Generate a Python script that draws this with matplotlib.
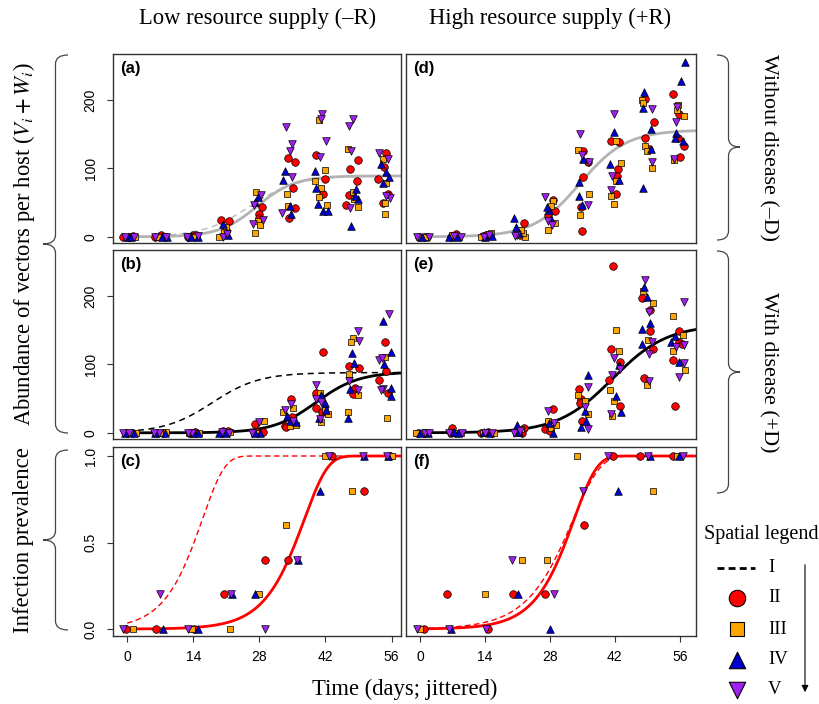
import numpy as np
import matplotlib
matplotlib.use('Agg')
import matplotlib.pyplot as plt
from matplotlib.path import Path
from matplotlib.patches import PathPatch

plt.rcParams['font.family'] = ['Liberation Serif', 'DejaVu Serif']
plt.rcParams['mathtext.fontset'] = 'stix'

# ---- data: (day, value) per spatial class ----
# panel (a): -R, -D
pts_a = {
    'II': [(-0.8, 0), (0.4, 0), (1.2, 1), (7.1, 3), (6.0, 0), (13.9, 3), (14.6, 2), (12.8, 0),
           (19.9, 24), (21.5, 23), (20.9, 10), (28.0, 33), (28.5, 43), (27.9, 28), (34.0, 115),
           (35.5, 110), (35.1, 72), (35.5, 42), (34.3, 28), (39.9, 120), (41.8, 84), (41.5, 63),
           (48.8, 112), (47.1, 99), (48.7, 82), (46.9, 61), (46.4, 47), (54.9, 122), (54.4, 102),
           (53.1, 85), (55.3, 63), (54.2, 50)],
    'III': [(-0.3, 0), (1.6, 0), (6.5, 0), (7.9, 1), (13.2, 1), (14.2, 0), (19.5, 0), (21.0, 14),
            (20.5, 7), (27.3, 65), (27.7, 23), (27.0, 6), (28.2, 17), (33.9, 63), (34.0, 45),
            (40.6, 171), (41.8, 97), (39.8, 82), (41.1, 72), (40.6, 58), (42.4, 47), (46.8, 128),
            (47.8, 65), (48.0, 55), (48.9, 44), (54.1, 113), (54.8, 78), (54.6, 49), (54.7, 33)],
    'IV': [(0.1, 0), (0.9, 0), (7.4, 0), (8.4, 0), (13.6, 0), (15.0, 0), (20.4, 19), (20.9, 5),
           (21.3, 2), (27.7, 58), (27.1, 51), (33.5, 96), (33.0, 83), (34.7, 33), (34.4, 45),
           (39.7, 96), (40.1, 72), (40.4, 48), (41.5, 38), (42.5, 38), (48.5, 70), (48.9, 55),
           (47.5, 16), (48.2, 60), (53.7, 106), (54.9, 94), (55.4, 87), (54.1, 79)],
    'V': [(-0.5, 0), (1.4, 0), (5.8, 0), (8.2, 0), (12.6, 0), (14.9, 1), (20.2, 0), (21.1, 4),
          (28.4, 61), (26.8, 47), (26.6, 19), (28.7, 25), (33.7, 160), (34.9, 136), (34.4, 126),
          (34.9, 87), (32.8, 35), (41.2, 180), (41.1, 172), (42.2, 140), (40.8, 117), (47.8, 172),
          (47.0, 162), (47.5, 125), (47.3, 42), (53.4, 123), (55.3, 113), (55.6, 56), (54.8, 60)],
}
# panel (b): -R, +D
pts_b = {
    'II': [(-0.1, 0), (1.0, 0), (6.4, 0), (7.6, 0), (13.4, 0), (14.4, 1), (21.3, 3), (20.2, 2),
           (19.8, 0), (27.0, 13), (28.7, 1), (27.5, 1), (34.6, 50), (34.9, 23), (33.5, 10),
           (33.7, 8), (41.5, 118), (39.9, 58), (40.1, 36), (41.2, 31), (47.0, 97), (49.1, 94),
           (48.3, 66), (47.8, 56), (54.7, 133), (54.9, 90), (53.4, 77), (55.3, 58)],
    'III': [(0.6, 0), (1.8, 0), (7.1, 0), (8.3, 1), (13.0, 0), (15.2, 0), (20.6, 0), (21.8, 1),
            (28.9, 17), (26.8, 0), (27.7, 0), (35.2, 36), (33.1, 31), (34.5, 10), (35.8, 12),
            (40.8, 58), (41.8, 34), (42.5, 27), (41.0, 16), (47.8, 138), (47.5, 133), (47.0, 86),
            (48.9, 55), (46.8, 30), (54.7, 111), (55.1, 22)],
    'IV': [(-0.5, 0), (1.4, 0), (6.0, 0), (8.0, 0), (14.0, 0), (15.0, 0), (20.9, 0), (19.5, 0),
           (28.2, 0), (27.0, 0), (34.4, 18), (35.7, 16), (33.9, 24), (41.9, 44), (42.2, 33),
           (40.6, 22), (41.0, 55), (47.6, 117), (48.1, 102), (47.1, 64), (46.8, 22), (54.1, 164),
           (55.8, 118), (55.8, 66), (55.8, 54), (54.5, 100)],
    'V': [(-0.8, 0), (0.3, 0), (6.8, 0), (5.7, 0), (13.8, 0), (12.9, 0), (21.5, 0), (20.0, 1),
          (28.0, 16), (26.5, 0), (34.6, 42), (33.5, 33), (35.1, 17), (40.1, 70), (41.1, 45),
          (39.9, 49), (40.8, 20), (48.8, 149), (49.1, 134), (47.0, 76), (48.8, 63), (55.5, 174),
          (53.4, 106), (53.9, 109), (54.1, 64), (53.7, 62)],
}
# panel (d): +R, -D
pts_d = {
    'II': [(-0.2, 0), (0.9, 0), (1.6, 0), (7.7, 4), (6.6, 0), (13.5, 1), (14.3, 3), (22.5, 20),
           (21.5, 2), (28.6, 54), (27.6, 32), (29.2, 38), (35.1, 126), (36.2, 109), (35.2, 88),
           (34.7, 43), (35.0, 8), (41.1, 140), (43.0, 139), (42.7, 99), (42.5, 89), (42.3, 63),
           (48.6, 201), (50.4, 167), (48.6, 144), (49.4, 128), (54.6, 209), (55.8, 180),
           (55.7, 145), (56.9, 133), (56.1, 117)],
    'III': [(0.1, 0), (1.2, 0), (7.0, 2), (8.4, 0), (15.3, 5), (13.1, 0), (22.7, 0), (22.3, 5),
            (21.8, 10), (28.6, 53), (28.3, 45), (29.1, 20), (27.7, 10), (34.0, 127), (36.4, 62),
            (34.4, 32), (42.3, 140), (43.4, 108), (42.3, 81), (41.2, 59), (41.9, 48), (47.9, 200),
            (48.0, 196), (48.6, 133), (48.9, 126), (50.0, 100), (55.6, 192), (55.3, 185),
            (56.9, 176), (54.7, 112)],
    'IV': [(0.5, 0), (6.3, 0), (7.9, 0), (14.0, 0), (15.6, 1), (20.3, 28), (20.8, 14), (21.3, 6),
           (27.9, 39), (28.3, 26), (27.3, 43), (35.2, 114), (34.2, 80), (34.2, 59), (35.0, 47),
           (41.9, 153), (40.9, 106), (42.9, 83), (48.2, 211), (48.1, 188), (49.9, 158),
           (49.9, 128), (48.1, 72), (57.1, 256), (56.2, 227), (55.1, 151), (54.9, 144), (56.6, 140)],
    'V': [(-0.6, 0), (1.9, 0), (8.8, 0), (7.3, 1), (13.8, 0), (14.8, 2), (21.0, 3), (20.5, 1),
          (27.0, 58), (27.5, 23), (28.5, 17), (34.6, 150), (35.0, 120), (36.5, 110), (36.3, 47),
          (41.9, 180), (41.4, 89), (41.2, 69), (50.1, 187), (50.0, 110), (55.3, 189), (55.1, 167),
          (54.8, 114)],
}
# panel (e): +R, +D
pts_e = {
    'II': [(-0.4, 0), (0.8, 0), (7.0, 7), (6.6, 0), (14.6, 1), (13.2, 0), (22.5, 7), (22.1, 0),
           (28.6, 35), (26.9, 5), (28.0, 3), (34.2, 64), (34.7, 49), (34.4, 44), (35.0, 18),
           (41.6, 243), (41.1, 123), (43.1, 104), (40.7, 77), (43.1, 39), (47.8, 197), (49.5, 179),
           (49.5, 148), (50.2, 122), (48.4, 80), (55.9, 148), (55.9, 132), (56.4, 129),
           (54.6, 107), (55.0, 39)],
    'III': [(0.4, 0), (-0.8, 0), (7.7, 0), (8.8, 0), (13.5, 0), (15.9, 0), (21.8, 6), (20.6, 0),
            (27.7, 17), (28.3, 7), (29.3, 11), (34.0, 55), (35.5, 47), (36.3, 27), (42.3, 150),
            (42.8, 119), (41.0, 62), (41.8, 47), (41.4, 25), (48.1, 207), (50.2, 189), (49.2, 135),
            (48.9, 70), (54.6, 170), (56.7, 143), (54.6, 119), (57.1, 92)],
    'IV': [(1.7, 0), (0.1, 0), (8.2, 0), (7.3, 1), (15.2, 0), (13.9, 1), (21.0, 12), (21.4, 1),
           (27.9, 14), (28.6, 0), (36.2, 84), (35.5, 32), (34.7, 8), (35.9, 17), (42.8, 99),
           (42.3, 54), (43.3, 31), (48.3, 213), (48.9, 198), (49.6, 161), (47.9, 151), (47.9, 129),
           (55.0, 142), (54.2, 133), (55.9, 103)],
    'V': [(1.2, 0), (2.0, 0), (6.2, 0), (9.0, 0), (14.1, 0), (15.5, 0), (20.3, 0), (21.6, 2),
          (27.5, 32), (28.9, 14), (36.2, 67), (36.3, 5), (35.6, 38), (41.8, 110), (43.2, 93),
          (41.4, 85), (41.1, 28), (48.6, 223), (49.3, 176), (50.1, 133), (49.4, 115), (49.3, 75),
          (56.9, 191), (55.1, 125), (56.9, 128), (57.0, 102), (55.9, 82)],
}
# panel (c): prevalence, -R
pts_c = {
    'II': [(-0.3, 0), (6.2, 0), (14.2, 0), (20.5, 0.2), (29.1, 0.4), (34.0, 0.4), (43.3, 1.0),
           (50.2, 0.8), (55.6, 1.0)],
    'III': [(1.3, 0), (13.8, 0), (21.7, 0), (27.9, 0.2), (33.7, 0.6), (41.9, 1.0), (47.7, 0.8),
            (56.0, 1.0)],
    'IV': [(7.5, 0), (14.9, 0), (22.2, 0.2), (27.1, 0.2), (36.2, 0.4), (40.9, 0.8), (50.2, 1.0),
           (55.3, 1.0)],
    'V': [(-0.8, 0), (7.0, 0.2), (12.8, 0), (22.0, 0.2), (29.1, 0), (36.0, 0.4), (42.7, 1.0),
          (50.0, 1.0), (55.0, 1.0)],
}
# panel (f): prevalence, +R
pts_f = {
    'II': [(0.9, 0), (5.8, 0.2), (14.7, 0), (20.1, 0.2), (26.9, 0.2), (35.4, 0.6), (41.6, 1.0),
           (47.5, 1.0), (54.5, 1.0)],
    'III': [(0.0, 0), (14.0, 0.2), (22.1, 0.4), (27.4, 0.4), (33.9, 1.0), (50.2, 0.8), (55.3, 1.0)],
    'IV': [(6.6, 0), (21.2, 0.2), (28.0, 0), (42.6, 0.8), (49.6, 1.0), (55.8, 1.0)],
    'V': [(-0.6, 0), (6.2, 0), (14.3, 0), (19.8, 0.4), (28.8, 0.2), (35.1, 0.8), (40.5, 1.0),
          (49.2, 1.0), (56.6, 1.0)],
}

# fitted curves: abundance = logistic (K, t0, r); prevalence = cloglog (t0, r)
fit_a = {'solid': (89, 27.5, 0.25), 'dash': (89, 26.0, 0.20)}
fit_b = {'solid': (89, 40.0, 0.22), 'dash': (88, 18.0, 0.20)}
fit_d = {'solid': (156, 34.5, 0.20)}
fit_e = {'solid': (158, 41.5, 0.17)}
fit_c = {'solid': (37.5, 0.20), 'dash': (15.9, 0.21)}
fit_f = {'solid': (33.2, 0.20), 'dash': (33.0, 0.17)}

styles = {
    'II': dict(marker='o', color='#ff0000', s=30),
    'III': dict(marker='s', color='#ffa500', s=15),
    'IV': dict(marker='^', color='#0000cd', s=30),
    'V': dict(marker='v', color='#a020f0', s=30),
}

W, H = 819, 704
fig = plt.figure(figsize=(W / 100, H / 100), dpi=100)


def rect(l, t, r, b):
    return [l / W, 1 - b / H, (r - l) / W, (b - t) / H]


cols = [(113, 401), (406, 696)]
rows = [(54, 243), (250, 439), (447, 636)]
xlims = [(-3, 58), (-3, 59.5)]


def logistic(t, K, t0, r):
    return K / (1 + np.exp(-r * (t - t0)))


def cloglog(t, t0, r):
    return 1 - np.exp(-np.exp(r * (t - t0)))


def draw_points(ax, pts):
    for k in ['II', 'III', 'IV', 'V']:
        arr = np.array(pts[k])
        st = styles[k]
        ax.scatter(arr[:, 0], arr[:, 1], marker=st['marker'], s=st['s'], c=st['color'],
                   edgecolors='black', linewidths=0.5, zorder=3)


panels = [
    (0, 0, '(a)', pts_a, fit_a, '#b3b3b3', 'abund'),
    (0, 1, '(b)', pts_b, fit_b, 'black', 'abund'),
    (0, 2, '(c)', pts_c, fit_c, 'red', 'prev'),
    (1, 0, '(d)', pts_d, fit_d, '#b3b3b3', 'abund'),
    (1, 1, '(e)', pts_e, fit_e, 'black', 'abund'),
    (1, 2, '(f)', pts_f, fit_f, 'red', 'prev'),
]

for ci, ri, lab, pts, fit, lc, kind in panels:
    l, r = cols[ci]
    t, b = rows[ri]
    ax = fig.add_axes(rect(l, t, r, b))
    ax.set_xlim(*xlims[ci])
    tt = np.linspace(0, xlims[ci][1], 300)
    if kind == 'abund':
        ax.set_ylim(-9, 267)
        if 'dash' in fit:
            dc = '#c0c0c0' if lc != 'black' else 'black'
            ax.plot(tt, logistic(tt, *fit['dash']), color=dc, lw=1.1, ls=(0, (4, 3)), zorder=2)
        ax.plot(tt, logistic(tt, *fit['solid']), color=lc, lw=2, zorder=2)
        ax.set_yticks([0, 100, 200])
    else:
        ax.set_ylim(-0.04, 1.052)
        ax.plot(tt, cloglog(tt, *fit['dash']), color=lc, lw=1.0, ls=(0, (4, 2.5)), zorder=2)
        ax.plot(tt, cloglog(tt, *fit['solid']), color=lc, lw=2, zorder=2)
        ax.set_yticks([0, 0.5, 1.0])
        ax.set_yticklabels(['0.0', '0.5', '1.0'])
    draw_points(ax, pts)
    ax.set_xticks([0, 14, 28, 42, 56])
    for sp in ax.spines.values():
        sp.set_color('#333333')
        sp.set_linewidth(1)
    ax.tick_params(direction='out', length=4, width=0.8, color='#333333', labelsize=10)
    for tl in ax.get_xticklabels() + ax.get_yticklabels():
        tl.set_fontfamily('Liberation Sans')
    if ri != 2:
        ax.tick_params(axis='x', bottom=False, labelbottom=False)
    else:
        ax.tick_params(axis='x', pad=6)
    if ci == 1:
        ax.tick_params(axis='y', left=False, labelleft=False)
    else:
        ax.tick_params(axis='y', pad=7)
        for tl in ax.get_yticklabels():
            tl.set_rotation(90)
            tl.set_va('center')
    ax.text(0.025, 0.965, lab, transform=ax.transAxes, ha='left', va='top',
            fontsize=12, fontweight='bold', family='Liberation Sans')

# overlay in pixel coordinates for labels, braces and legend
ov = fig.add_axes([0, 0, 1, 1])
ov.set_xlim(0, W)
ov.set_ylim(H, 0)
ov.axis('off')


def brace(x_end, x_tip, y0, y1, ym=None):
    xm = (x_end + x_tip) / 2
    if ym is None:
        ym = (y0 + y1) / 2
    rr = 9
    verts = [(x_end, y0), (xm, y0), (xm, y0 + rr), (xm, ym - rr), (xm, ym), (x_tip, ym),
             (xm, ym), (xm, ym + rr), (xm, y1 - rr), (xm, y1), (x_end, y1)]
    codes = [Path.MOVETO, Path.CURVE3, Path.CURVE3, Path.LINETO, Path.CURVE3, Path.CURVE3,
             Path.CURVE3, Path.CURVE3, Path.LINETO, Path.CURVE3, Path.CURVE3]
    ov.add_patch(PathPatch(Path(verts, codes), fc='none', ec='#444444', lw=0.9))


brace(68, 43, 55, 433, 244)
brace(68, 43, 450, 630, 540)
brace(717, 740, 55, 240, 147)
brace(717, 740, 251, 493, 372)

fs = 16.3
ov.text(258, 18, 'Low resource supply (\u2013R)', ha='center', va='center', fontsize=fs)
ov.text(550, 18, 'High resource supply (+R)', ha='center', va='center', fontsize=fs)
ov.text(405, 689, 'Time (days; jittered)', ha='center', va='center', fontsize=fs)
ov.text(24, 244, 'Abundance of vectors per host ($V_i + W_i$)', rotation=90,
        ha='center', va='center', fontsize=fs)
ov.text(24, 540, 'Infection prevalence', rotation=90, ha='center', va='center', fontsize=fs)
ov.text(768, 147, 'Without disease (\u2013D)', rotation=270, ha='center', va='center', fontsize=15.8)
ov.text(768, 372, 'With disease (+D)', rotation=270, ha='center', va='center', fontsize=15.8)

# spatial legend
ov.text(761, 535, 'Spatial legend', ha='center', va='center', fontsize=14.5)
ov.plot([717, 755], [568, 568], color='black', lw=2, ls=(0, (2.5, 1.5)))
leg_y = {'II': 598, 'III': 629, 'IV': 660, 'V': 690}
leg_s = {'II': 140, 'III': 95, 'IV': 140, 'V': 140}
for k, yy in leg_y.items():
    ov.scatter([737], [yy], marker=styles[k]['marker'], s=leg_s[k], c=styles[k]['color'],
               edgecolors='black', linewidths=0.8)
for name, yy in [('I', 568)] + list(leg_y.items()):
    ov.text(768, yy, name, ha='left', va='center', fontsize=13.5)
ov.annotate('', xy=(805, 695), xytext=(805, 562),
            arrowprops=dict(arrowstyle='-|>', color='black', lw=0.8, mutation_scale=10))

fig.savefig('out.png', dpi=100)
